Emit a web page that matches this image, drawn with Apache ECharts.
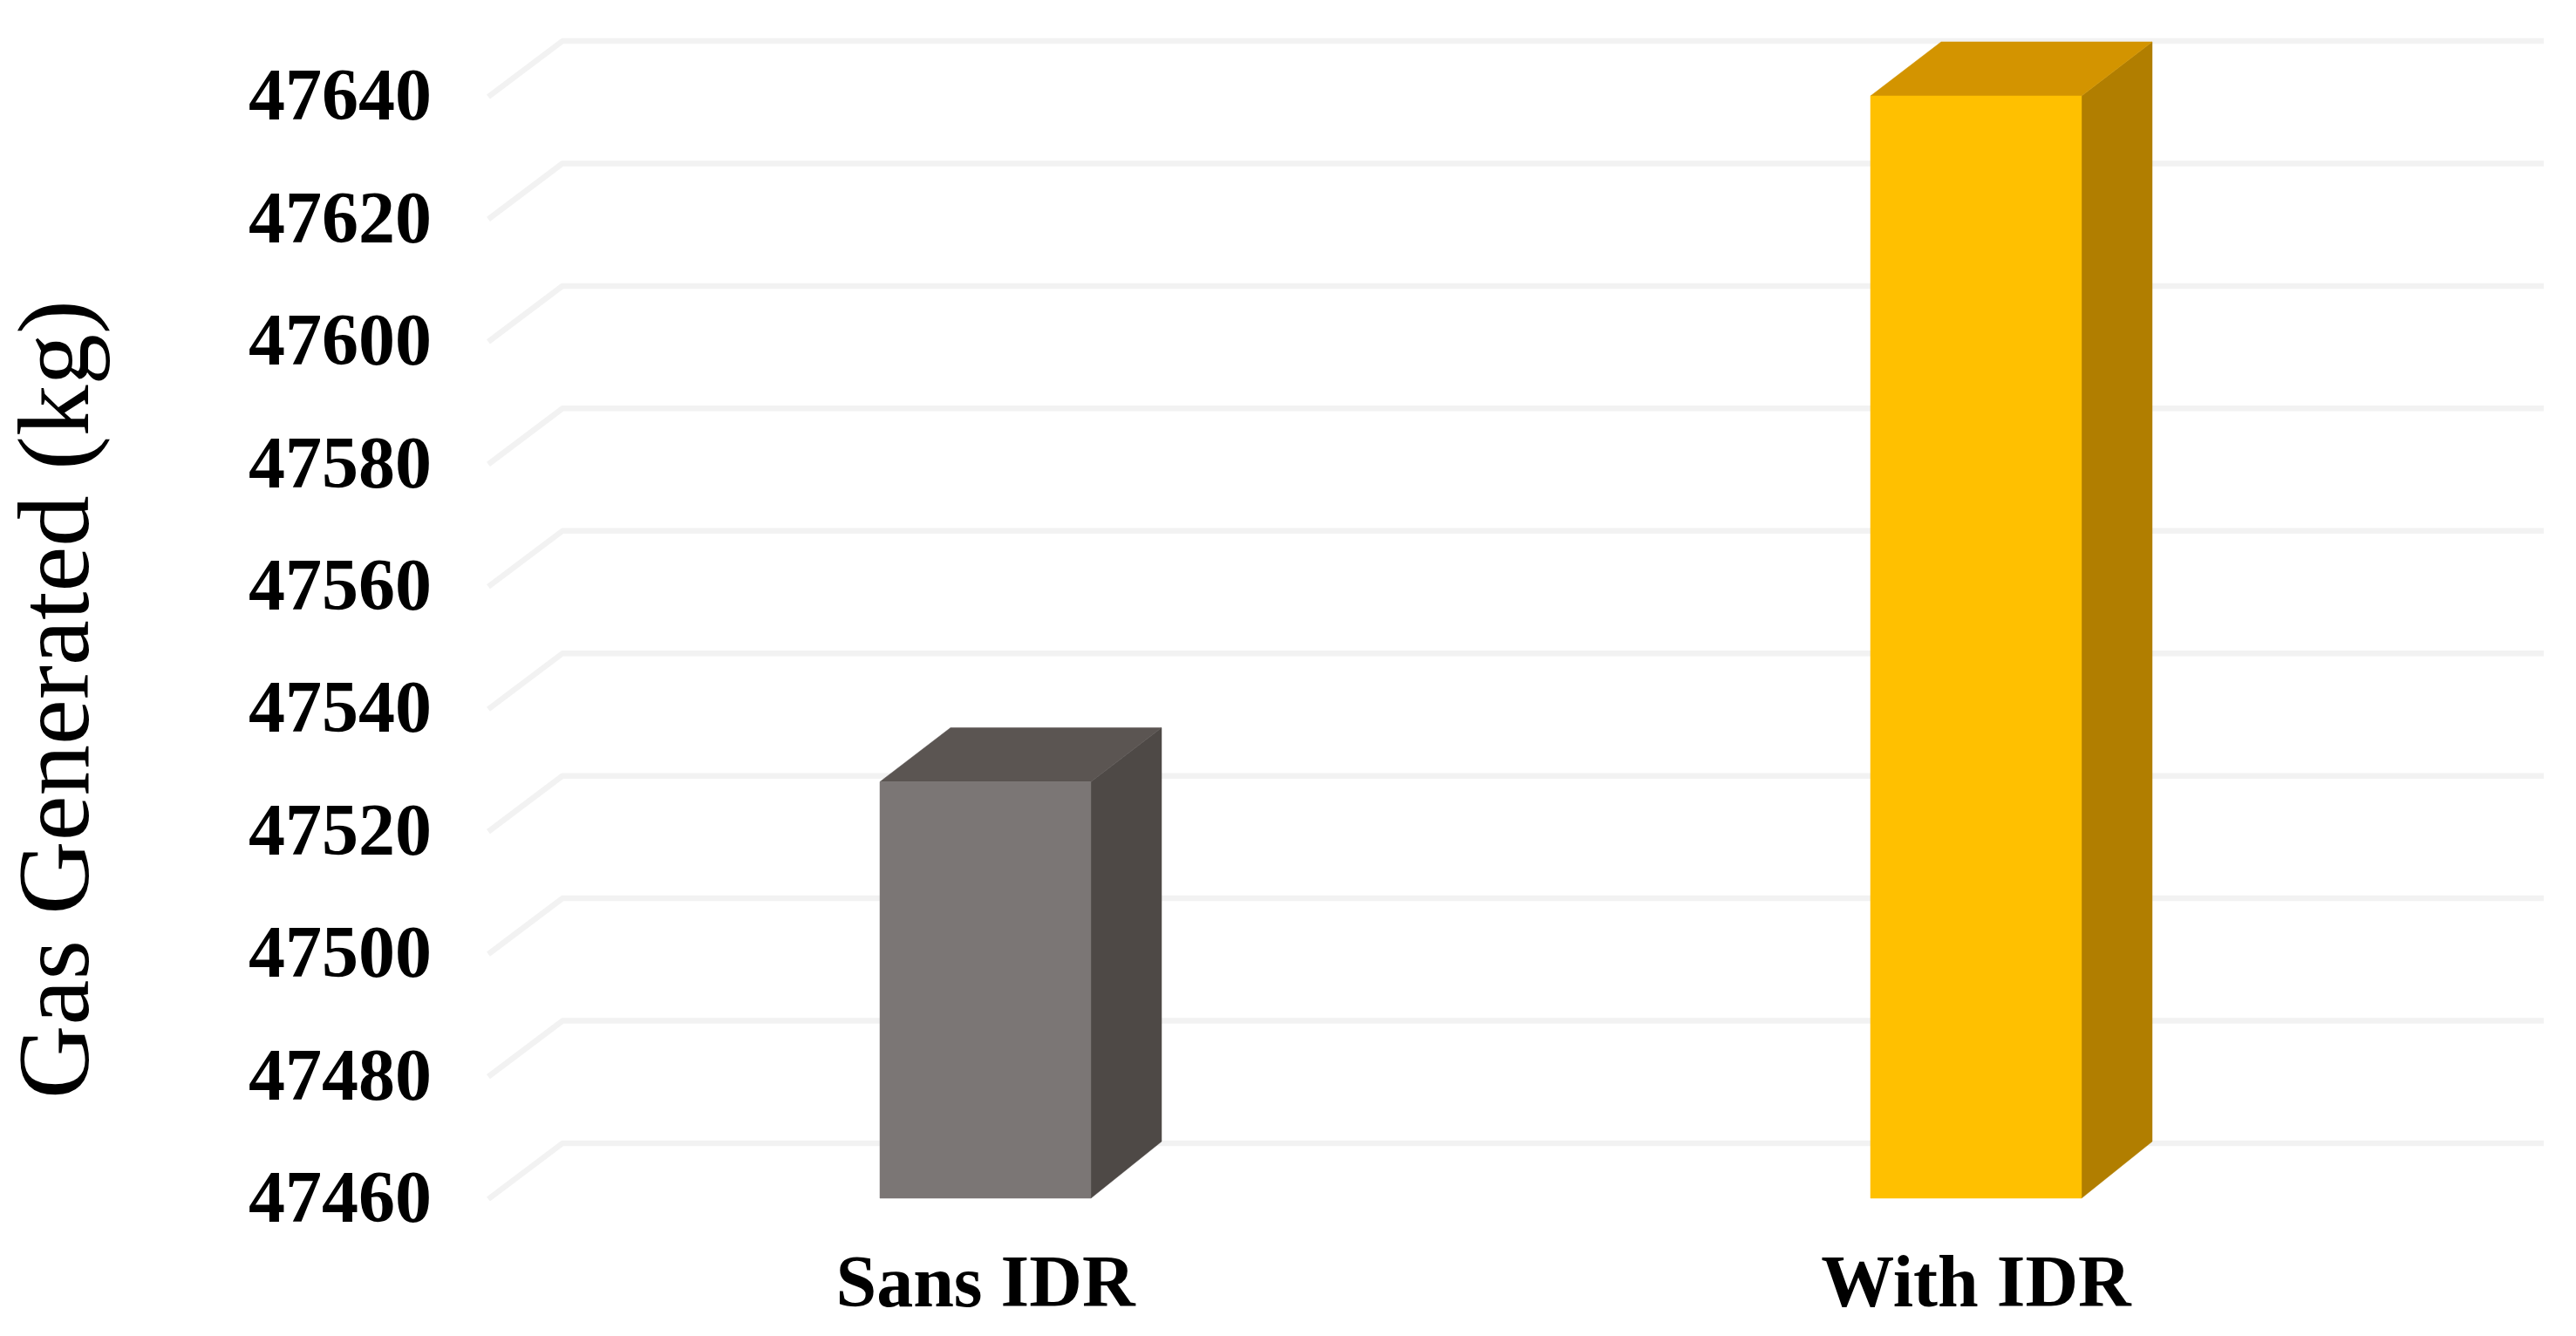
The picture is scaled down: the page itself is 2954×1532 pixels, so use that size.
<!DOCTYPE html>
<html>
<head>
<meta charset="utf-8">
<style>html,body{margin:0;padding:0;background:#fff}#c{width:2954px;height:1532px}</style>
<script src="https://cdn.jsdelivr.net/npm/echarts@6/dist/echarts.min.js"></script>
</head>
<body>
<div id="c"></div>
<script>
const categories = ['Sans IDR', 'With IDR'];
const gasGenerated = [47528, 47640];
const yTicks = [47460, 47480, 47500, 47520, 47540, 47560, 47580, 47600, 47620, 47640];
const axisTitle = 'Gas Generated (kg)';

const faces = [
  { front: '#7b7675', top: '#5b5552', side: '#4e4946' },
  { front: '#ffc000', top: '#d39400', side: '#b17e00' }
];
const FONT = '"Liberation Serif", "Times New Roman", serif';

const chart = echarts.init(document.getElementById('c'), null, { renderer: 'canvas' });

function renderWallLine(params, api) {
  const p = api.coord([0, api.value(1)]);
  const g = params.coordSys;
  const y = p[1];
  return {
    type: 'polyline',
    silent: true,
    shape: { points: [[g.x - 2, y + 1], [g.x + 83, y - 63], [g.x + g.width + 83, y - 63]] },
    style: { fill: 'none', stroke: '#f2f2f2', lineWidth: 6.5, lineJoin: 'round' }
  };
}

function renderBar(params, api) {
  const i = api.value(0);
  const top = api.coord([i, api.value(1)]);
  const base = api.coord([i, yTicks[0]]);
  const w = api.size([1, 0])[0] * 0.213;
  const l = top[0] - w / 2, r = top[0] + w / 2;
  const dx = 81, dy = 62;
  const c = faces[i];
  const poly = (points, fill) => ({
    type: 'polygon', silent: true, shape: { points }, style: { fill, stroke: fill, lineWidth: 0.5 }
  });
  return {
    type: 'group',
    children: [
      poly([[r, base[1]], [r + dx, base[1] - dy - 3], [r + dx, top[1] - dy], [r, top[1]]], c.side),
      poly([[l, top[1]], [l + dx, top[1] - dy], [r + dx, top[1] - dy], [r, top[1]]], c.top),
      poly([[l, top[1]], [r, top[1]], [r, base[1]], [l, base[1]]], c.front)
    ]
  };
}

chart.setOption({
  animation: false,
  backgroundColor: '#ffffff',
  grid: { left: 562, top: 110, width: 2272, height: 1264, containLabel: false, outerBoundsMode: 'none' },
  xAxis: {
    type: 'category',
    data: categories,
    axisLine: { show: false },
    axisTick: { show: false },
    splitLine: { show: false },
    axisLabel: { color: '#000', fontFamily: FONT, fontWeight: 'bold', fontSize: 84, margin: 60 }
  },
  yAxis: {
    type: 'value',
    min: yTicks[0],
    max: yTicks[yTicks.length - 1],
    interval: 20,
    axisLine: { show: false },
    axisTick: { show: false },
    splitLine: { show: false },
    axisLabel: {
      color: '#000', fontFamily: FONT, fontWeight: 'bold', fontSize: 84, margin: 67,
      formatter: v => '{t|' + v + '}',
      rich: { t: { fontFamily: FONT, fontWeight: 'bold', fontSize: 84, color: '#000', padding: [11, 0, 0, 0] } }
    },
    name: axisTitle,
    nameLocation: 'middle',
    nameGap: 433,
    nameRotate: 90,
    nameTextStyle: { color: '#000', fontFamily: FONT, fontWeight: 'normal', fontSize: 117, padding: [0, 120, 0, 0] }
  },
  series: [
    {
      type: 'custom',
      name: 'Wall',
      coordinateSystem: 'cartesian2d',
      renderItem: renderWallLine,
      data: yTicks.map(v => [0, v]),
      encode: { x: 0, y: 1 },
      silent: true,
      z: 1
    },
    {
      type: 'custom',
      name: 'Gas Generated',
      coordinateSystem: 'cartesian2d',
      renderItem: renderBar,
      data: gasGenerated.map((v, i) => [i, v]),
      encode: { x: 0, y: 1 },
      silent: true,
      z: 2
    }
  ]
});
</script>
</body>
</html>
